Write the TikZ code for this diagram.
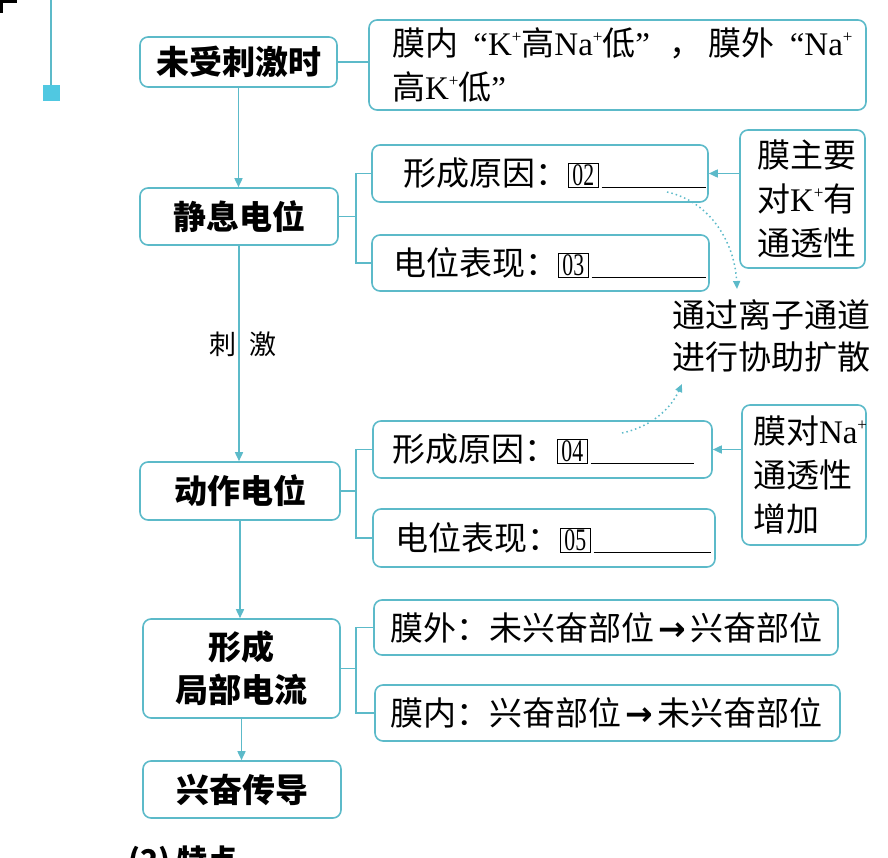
\documentclass[tikz,border=0pt]{standalone}
\usepackage{fontspec}
\usepackage{graphicx}
\setmainfont{Noto Sans CJK SC}
\newfontfamily\lat{Liberation Serif}
\newfontfamily\djv{DejaVu Sans}
\usetikzlibrary{arrows.meta}
\definecolor{tl}{RGB}{92,186,201}
\definecolor{sq}{RGB}{80,200,225}
\newcommand\kp{\raisebox{0.72ex}{\lat\fontsize{17}{17}\selectfont +}}
\newcommand\nbox[1]{{\setlength\fboxsep{0.8pt}\setlength\fboxrule{1pt}\fbox{\makebox[27pt]{\lat\fontsize{33}{33}\selectfont\scalebox{0.66}[0.95]{#1}}}}}
\newcommand\blank[1]{\hspace{3pt}\rule[-2pt]{#1}{1pt}}
\newcommand\oq{\makebox[30pt][r]{\lat “}}
\newcommand\cq{\makebox[34pt][l]{\lat ”}}
\newcommand\ra{\makebox[36pt]{\djv\bfseries →}}
\begin{document}
\begin{tikzpicture}[x=1pt,y=-1pt,
  lbox/.style={draw=tl, line width=1.6pt, rounded corners=8pt, inner sep=0pt, align=center, font=\fontsize{33}{43}\selectfont\bfseries},
  rbox/.style={draw=tl, line width=1.6pt, rounded corners=8pt, inner sep=0pt, align=left, font=\fontsize{33}{44}\selectfont},
  conn/.style={draw=tl, line width=1.6pt},
  arr/.style={conn, -{Triangle[length=9pt,width=8pt]}},
  dots/.style={draw=tl, line width=1.5pt, dash pattern=on 1.5pt off 3pt, -{Triangle[length=8pt,width=7pt]}}]
\useasboundingbox (0,0) rectangle (888,858);

% top-left decoration
\fill[black] (0,0) rectangle (17,3);
\fill[black] (0,0) rectangle (3,13);
\draw[tl, line width=1.6pt] (51,0) -- (51,86);
\fill[sq] (43,85) rectangle (60,101);

% left column
\node[lbox, minimum width=197pt, minimum height=50pt] (b1) at (238.5,62) {未受刺激时};
\node[lbox, minimum width=198pt, minimum height=57pt] (b2) at (239,216.5) {静息电位};
\node[lbox, minimum width=200pt, minimum height=58pt] (b3) at (240,491) {动作电位};
\node[lbox, minimum width=197pt, minimum height=99pt] (b4) at (241.5,668.5) {形成\\局部电流};
\node[lbox, minimum width=198pt, minimum height=57pt] (b5) at (242,789.5) {兴奋传导};

\draw[arr] (b1.south) -- (b1.south |- b2.north);
\draw[arr] (b2.south) -- (b2.south |- b3.north);
\draw[arr] (b3.south) -- (b3.south |- b4.north);
\draw[arr] (b4.south) -- (b4.south |- b5.north);
\node[font=\fontsize{27}{27}\selectfont, inner sep=0pt] (ci) at (243,344) {刺\hspace{14pt}激};

% right boxes
\node[rbox, text width=497pt, minimum height=90pt] (r1) at (617.5,65)
  {\hspace*{23pt}膜内\oq{\lat K}\kp 高{\lat Na}\kp 低\cq ，\hspace{6pt}膜外\oq{\lat Na}\kp\\
   \hspace*{23pt}高{\lat K}\kp 低\cq};
\node[rbox, text width=336pt, minimum height=57pt] (r2) at (540,173.5)
  {\hspace*{31pt}形成原因：\nbox{02}\blank{104pt}};
\node[rbox, text width=337pt, minimum height=56pt] (r3) at (540.5,263)
  {\hspace*{21pt}电位表现：\nbox{03}\blank{114pt}};
\node[rbox, text width=339pt, minimum height=57pt] (r4) at (542.5,449.5)
  {\hspace*{19pt}形成原因：\nbox{04}\blank{103pt}};
\node[rbox, text width=342pt, minimum height=58pt] (r5) at (544,538)
  {\hspace*{22pt}电位表现：\nbox{05}\blank{117pt}};
\node[rbox, text width=125pt, minimum height=138pt] (k1) at (802.5,199)
  {\hspace*{17pt}膜主要\\\hspace*{17pt}对{\lat K}\kp 有\\\hspace*{17pt}通透性};
\node[rbox, text width=124pt, minimum height=140pt] (n1) at (804,475)
  {\hspace*{11pt}膜对{\lat Na}\kp\\\hspace*{11pt}通透性\\\hspace*{11pt}增加};
\node[align=left, inner sep=0pt, font=\fontsize{33}{42}\selectfont] (t1) at (771,336)
  {通过离子通道\\进行协助扩散};
\node[rbox, text width=464pt, minimum height=55pt] (r6) at (606,627.5)
  {\hspace*{16pt}膜外：未兴奋部位\ra 兴奋部位};
\node[rbox, text width=465pt, minimum height=56pt] (r7) at (607.5,713)
  {\hspace*{15pt}膜内：兴奋部位\ra 未兴奋部位};

% brackets
\coordinate (v) at (356,0);
\draw[conn] (b1.east) -- (b1.east -| r1.west);
\draw[conn] (b2.east) -- (b2.east -| v);
\draw[conn] (r2.west) -| (v |- b2.east) |- (r3.west);
\draw[conn] (b3.east) -- (b3.east -| v);
\draw[conn] (r4.west) -| (v |- b3.east) |- (r5.west);
\draw[conn] (b4.east) -- (b4.east -| v);
\draw[conn] (r6.west) -| (v |- b4.east) |- (r7.west);

% side arrows
\draw[arr] (k1.west |- r2.east) -- (r2.east);
\draw[arr] (n1.west |- r4.east) -- (r4.east);

% dotted curves
\coordinate (d1s) at (667,192);
\coordinate (d1e) at (737,289);
\draw[dots] (d1s) .. controls (712,202) and (735,245) .. (d1e);
\coordinate (d2s) at (622,433);
\coordinate (d2e) at (682,384);
\draw[dots] (d2s) .. controls (650,427) and (670,410) .. (d2e);

% cut-off heading at the bottom
\node[anchor=north west, inner sep=0pt, font=\fontsize{30}{30}\selectfont\bfseries] (ft) at (128,846) {(2) 特点};
\end{tikzpicture}
\end{document}
